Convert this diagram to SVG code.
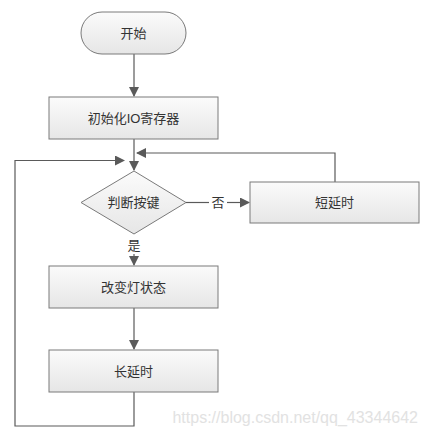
<svg xmlns="http://www.w3.org/2000/svg" width="428" height="436" viewBox="0 0 428 436">
<style>
.box{fill:url(#g);stroke:#7a7a7a;stroke-width:1}
.t{font-family:"Liberation Sans","Noto Sans CJK SC",sans-serif;font-size:13px;fill:#333;text-anchor:middle;dominant-baseline:central}
.c{fill:none;stroke:#5a5a5a;stroke-width:1.2}
</style>
<defs>
<linearGradient id="g" x1="0" y1="0" x2="0" y2="1">
<stop offset="0" stop-color="#fbfbfb"/>
<stop offset="1" stop-color="#e6e6e6"/>
</linearGradient>
<marker id="a" markerWidth="10" markerHeight="10" refX="9" refY="5" orient="auto" markerUnits="userSpaceOnUse">
<path d="M0,0 L10,5 L0,10 Z" fill="#5a5a5a"/>
</marker>
</defs>
<rect width="428" height="436" fill="#fff"/>
<g id="connectors">
<path class="c" d="M134,54 V96" marker-end="url(#a)"/>
<path class="c" d="M134,139 V170" marker-end="url(#a)"/>
<path class="c" d="M335,182 V153 H137" marker-end="url(#a)"/>
<path class="c" d="M134,392 V426 H15 V160.5 H124" marker-end="url(#a)"/>
<path class="c" d="M186,202.5 H209"/>
<path class="c" d="M227,202.5 H249" marker-end="url(#a)"/>
<path class="c" d="M134,254 V265" marker-end="url(#a)"/>
<path class="c" d="M134,308 V349" marker-end="url(#a)"/>
<text class="t" x="218" y="202.5">否</text>
<text class="t" x="134" y="245">是</text>
</g>
<g id="start">
<rect class="box" x="81" y="12" width="105" height="42" rx="21" ry="21"/>
<text class="t" x="133.5" y="33">开始</text>
</g>
<g id="init">
<rect class="box" x="49" y="97" width="169" height="42"/>
<text class="t" x="133.5" y="118">初始化IO寄存器</text>
</g>
<g id="judge">
<polygon class="box" points="134,171 186,202.5 134,234 81,202.5"/>
<text class="t" x="133.5" y="202.5">判断按键</text>
</g>
<g id="short">
<rect class="box" x="250" y="182" width="169" height="41"/>
<text class="t" x="334.5" y="202.5">短延时</text>
</g>
<g id="change">
<rect class="box" x="49" y="266" width="169" height="42"/>
<text class="t" x="133.5" y="287">改变灯状态</text>
</g>
<g id="long">
<rect class="box" x="49" y="350" width="169" height="42"/>
<text class="t" x="133.5" y="371">长延时</text>
</g>
<text x="418" y="423" font-family="Liberation Sans,Arial,sans-serif" font-size="16" fill="#e2e2e2" text-anchor="end">https://blog.csdn.net/qq_43344642</text>
</svg>
